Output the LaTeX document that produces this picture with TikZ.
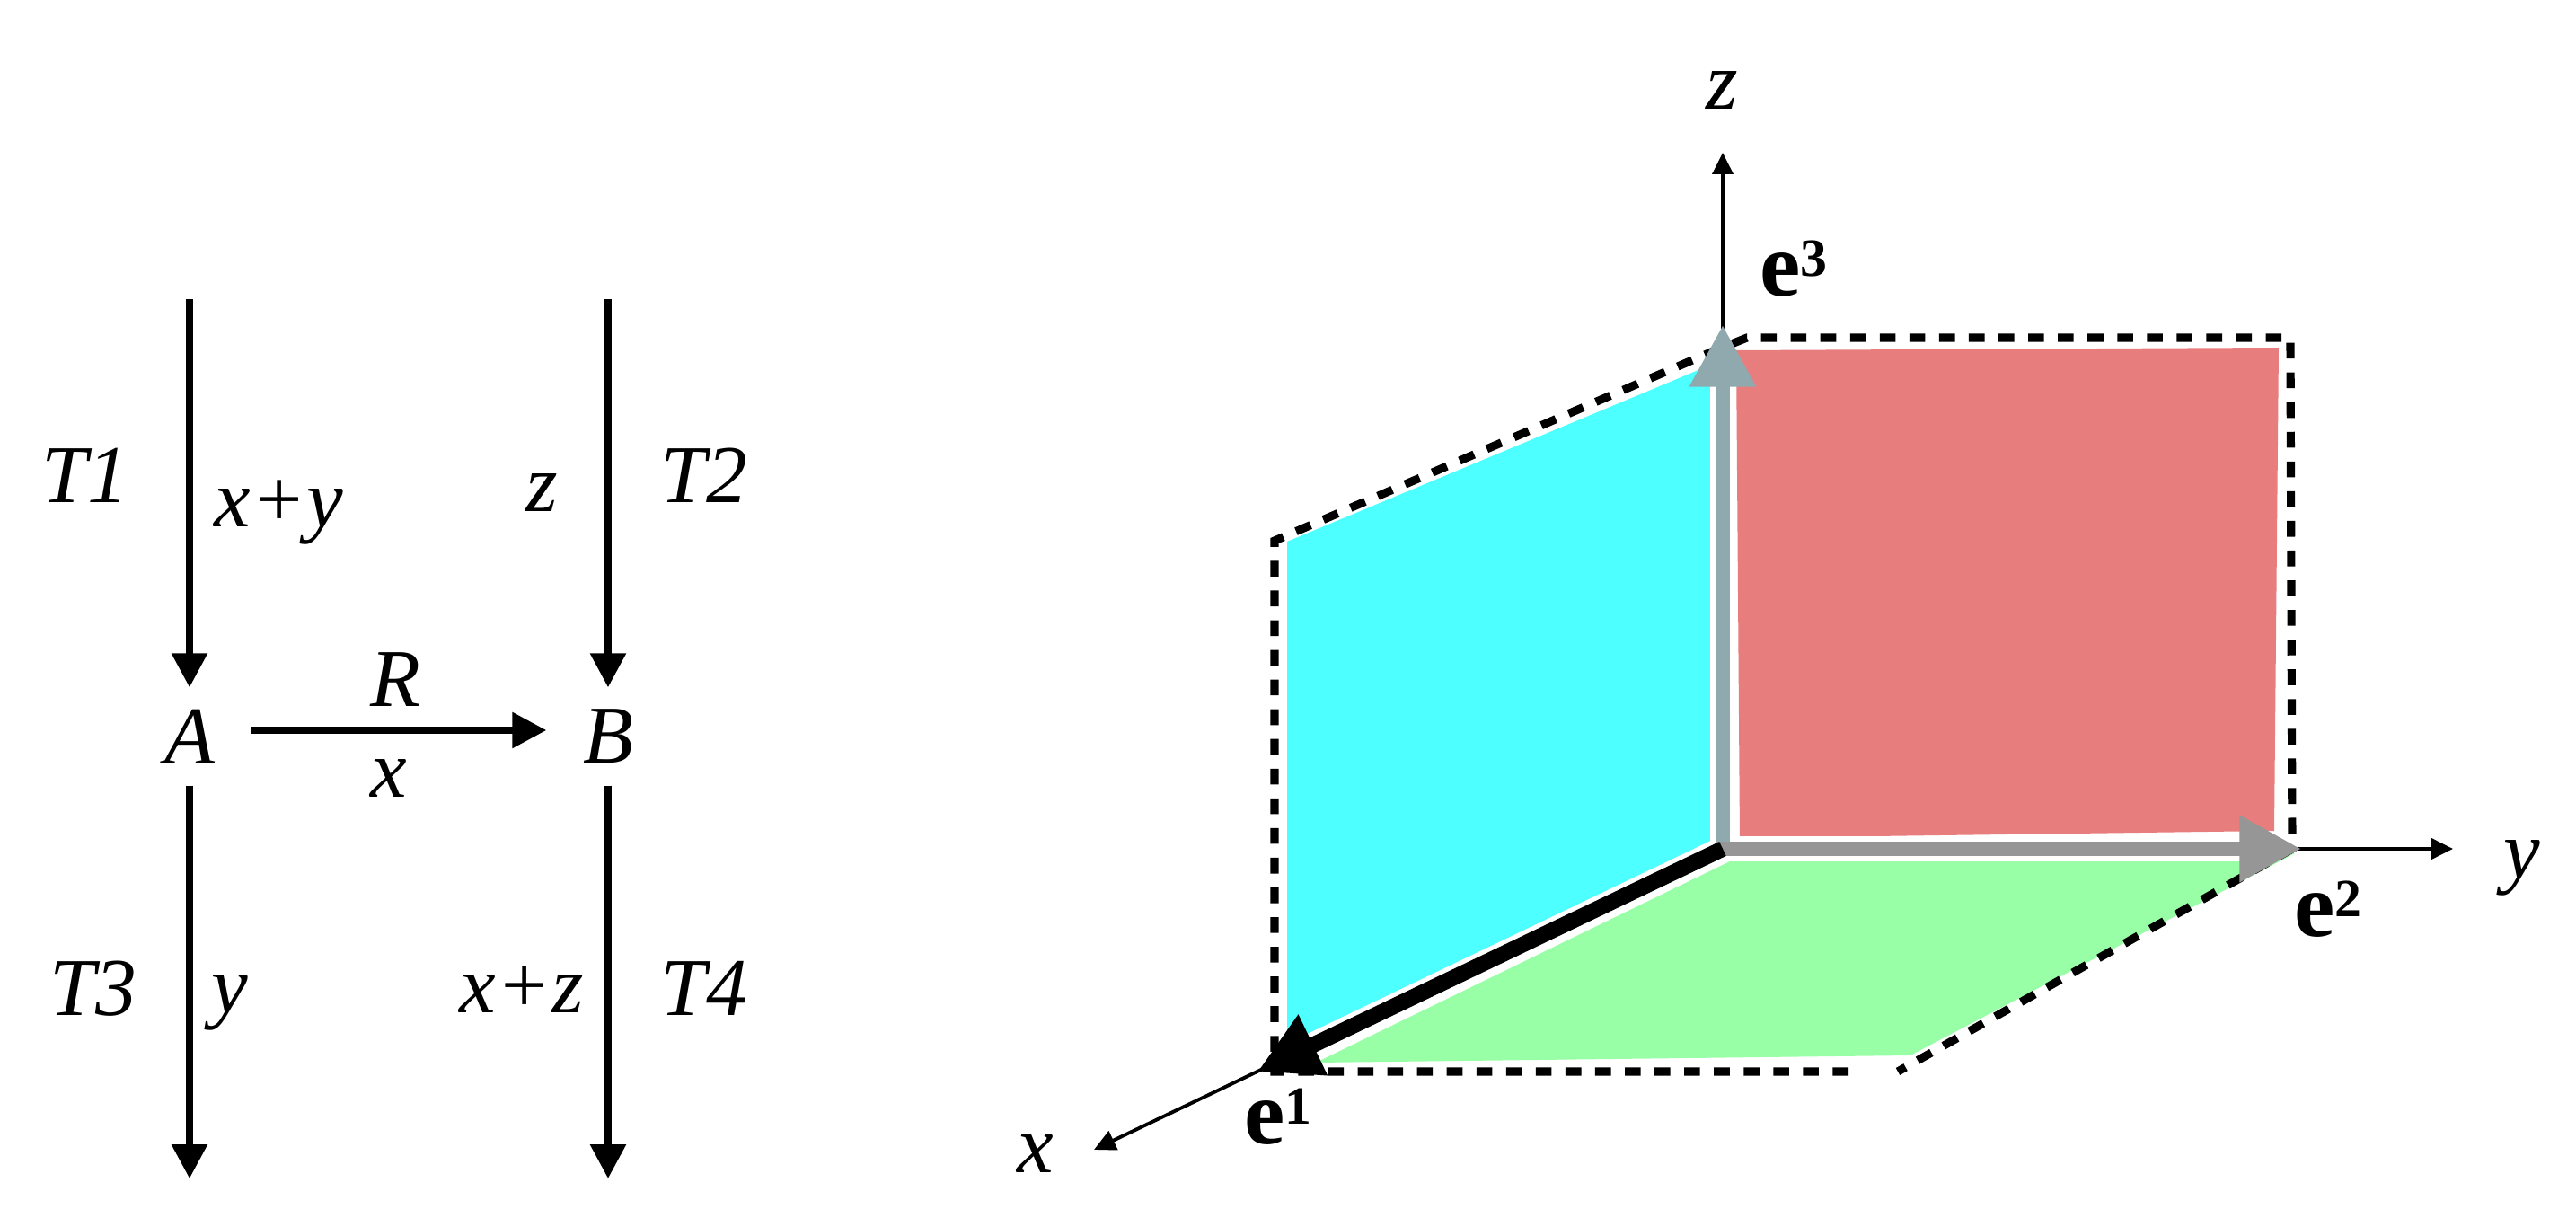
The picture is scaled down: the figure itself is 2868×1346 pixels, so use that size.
\documentclass[tikz,border=0pt]{standalone}
\usepackage{fontspec}
\setmainfont{Liberation Serif}
\usetikzlibrary{arrows.meta}
\definecolor{cyanface}{RGB}{77,255,255}
\definecolor{redface}{RGB}{232,125,125}
\definecolor{greenface}{RGB}{153,255,166}
\definecolor{ethree}{RGB}{143,169,174}
\definecolor{etwo}{RGB}{150,150,150}
\newcommand\ebasis[2]{e\raisebox{#2}{\fontsize{17}{17}\selectfont #1}}
\begin{document}
\begin{tikzpicture}[x=0.01cm,y=-0.01cm,
  lab/.style={font=\fontsize{26}{30}\selectfont\itshape, inner sep=0pt, anchor=base west},
  elab/.style={font=\fontsize{29}{32}\selectfont\bfseries, inner sep=0pt, anchor=base west},
  obj/.style={font=\fontsize{26}{30}\selectfont\itshape, inner sep=0pt, minimum width=1.36cm, minimum height=1.08cm},
  bigarr/.style={line width=2pt, -{Triangle[length=10.8pt,width=11pt]}},
  axisarr/.style={line width=1.1pt, -{Triangle[length=6.8pt,width=6.5pt]}},
  evecarr/.style={line width=4.4pt, -{Triangle[length=19.5pt,width=20pt]}},
  halo/.style={line width=7.9pt, white, shorten >=18pt},
  outline/.style={line width=2.6pt, dash pattern=on 5pt off 4.4pt},
]
\useasboundingbox (0,0) rectangle (2868,1346);

% ---------- left diagram ----------
\node[obj] (A) at (211,820) {A};
\node[obj] (B) at (677,820) {B};
\coordinate (Atop) at (211,333);
\coordinate (Abot) at (211,1312);
\coordinate (Btop) at (677,333);
\coordinate (Bbot) at (677,1312);
\draw[bigarr] (Atop) -- (A);
\draw[bigarr] (Btop) -- (B);
\draw[bigarr] (A) -- (Abot);
\draw[bigarr] (B) -- (Bbot);
\draw[bigarr] ([yshift=0.07cm]A.east) -- ([yshift=0.07cm]B.west);

\node[lab] (t1) at (46,560) {T1};
\node[lab] (xy) at (238,587) {x+y};
\node[lab] (zl) at (585,570) {z};
\node[lab] (t2) at (735,560) {T2};
\node[lab,anchor=base] (R) at (440,787) {R};
\node[lab,anchor=base] (xl) at (433,888) {x};
\node[lab] (t3) at (55,1130) {T3};
\node[lab] (yl) at (235,1127) {y};
\node[lab] (xz) at (511,1127) {x+z};
\node[lab] (t4) at (735,1130) {T4};

% ---------- right diagram ----------
\coordinate (O) at (1918,945);
\coordinate (O3) at (1918,937);
\coordinate (O2) at (1910,945);
\coordinate (ztip) at (1918,170);
\coordinate (ytip) at (2731,945);
\coordinate (xtip) at (1218,1280);
\coordinate (e3tip) at (1918,362);
\coordinate (e2tip) at (2562,945);
\coordinate (e1tip) at (1400,1193);

% faces
\fill[cyanface] (1433,603) -- (1910,404) -- (1910,949) -- (1433,1177) -- cycle;
\fill[redface] (1933,390) -- (2537,387) -- (2532,925) -- (1937,933) -- cycle;
\fill[greenface] (1930,957) -- (2555,950) -- (2127,1175) -- (1465,1183) -- cycle;

% dashed outline
\draw[outline] (2058,1193) -- (1419,1193) -- (1419,602) -- (1905,392) -- (1945,376)
  -- (2550,376) -- (2552,945) -- (2113,1193);

% axes
\draw[axisarr] (O) -- (ztip);
\draw[axisarr] (O) -- (ytip);
\draw[axisarr] (O) -- (xtip);

% basis vectors
\draw[halo] (O) -- (e3tip);
\draw[halo] (O) -- (e2tip);
\draw[halo] (O) -- (e1tip);
\draw[evecarr, ethree] (O3) -- (e3tip);
\draw[evecarr, etwo] (O2) -- (e2tip);
\draw[evecarr, black, line width=5pt] (O) -- (e1tip);

% labels
\node[lab,anchor=base] (zlab) at (1917,122) {z};
\node[lab,anchor=base] (ylab) at (2808,978) {y};
\node[lab,anchor=base] (xlab) at (1153,1305) {x};
\node[elab] (e3lab) at (1959,330) {\ebasis{3}{6.5pt}};
\node[elab] (e2lab) at (2554,1042) {\ebasis{2}{6pt}};
\node[elab] (e1lab) at (1385,1273) {\ebasis{1}{6pt}};
\end{tikzpicture}
\end{document}
